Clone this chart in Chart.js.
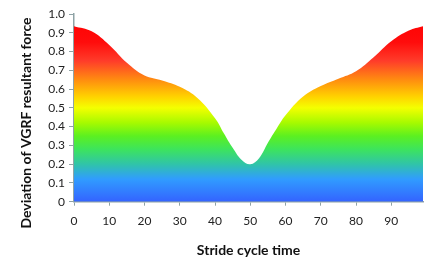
<!DOCTYPE html>
<html>
<head>
<meta charset="utf-8">
<script src="https://cdn.jsdelivr.net/npm/chart.js@4"></script>
<style>
  html, body { margin: 0; padding: 0; background: #fff; }
  #wrap { width: 444px; height: 263px; }
</style>
</head>
<body>
<div id="wrap"><canvas id="chart" width="444" height="263"></canvas></div>
<script>
// stride cycle (%) and deviation of VGRF resultant force
const strideTime = [0, 5, 10, 15, 20, 25, 30, 35, 40, 42.5, 45, 47.5, 50, 52.5, 55, 57.5, 60, 65, 70, 75, 80, 85, 90, 95, 99];
const vgrfDeviation = [0.935, 0.908, 0.835, 0.74, 0.672, 0.646, 0.612, 0.553, 0.445, 0.365, 0.287, 0.224, 0.20,
  0.232, 0.314, 0.39, 0.46, 0.56, 0.616, 0.655, 0.695, 0.77, 0.855, 0.912, 0.935];
const xTicks = [0, 10, 20, 30, 40, 50, 60, 70, 80, 90];
const yTitle = 'Deviation of VGRF resultant force';
const xTitle = 'Stride cycle time';

// gradient stops by value (0 bottom .. 1 top)
const gradStops = [
  [0.0, '#3463ff'], [0.12, '#309cff'], [0.2, '#30c4a8'], [0.28, '#3de45c'],
  [0.35, '#5cf020'], [0.42, '#a6fa00'], [0.5, '#f4ff00'], [0.56, '#ffd200'],
  [0.65, '#ff8c10'], [0.75, '#ff3c2a'], [0.85, '#ff0c0c'], [1.0, '#ff0000']
];

const axisColor = '#8fa3a6';
const fontFam = 'Lato, "Open Sans", sans-serif';

function fillGradient(ctx) {
  const chart = ctx.chart;
  const y = chart.scales.y;
  if (!chart.chartArea || !y) return '#f00';
  const y0 = y.getPixelForValue(0), y1 = y.getPixelForValue(1);
  if (!isFinite(y0) || !isFinite(y1)) return '#f00';
  const g = chart.ctx.createLinearGradient(0, y0, 0, y1);
  gradStops.forEach(s => g.addColorStop(s[0], s[1]));
  return g;
}

// y title sits a bit lower than the axis centre in the original
const yTitlePlugin = {
  id: 'yTitle',
  afterDraw(chart) {
    const c = chart.ctx;
    c.save();
    c.translate(26, 123);
    c.rotate(-Math.PI / 2);
    c.font = 'bold 14px ' + fontFam;
    c.fillStyle = '#111';
    c.textAlign = 'center';
    c.textBaseline = 'middle';
    c.fillText(yTitle, 0, 0);
    c.restore();
  }
};

new Chart(document.getElementById('chart').getContext('2d'), {
  type: 'line',
  data: {
    datasets: [{
      data: strideTime.map((t, i) => ({ x: t, y: vgrfDeviation[i] })),
      fill: 'origin',
      backgroundColor: fillGradient,
      borderWidth: 0,
      pointRadius: 0,
      tension: 0.4
    }]
  },
  plugins: [yTitlePlugin],
  options: {
    responsive: false,
    animation: false,
    layout: { padding: { top: 14, right: 21, left: 0, bottom: 0 } },
    plugins: { legend: { display: false }, tooltip: { enabled: false } },
    scales: {
      x: {
        type: 'linear',
        min: 0,
        max: 99,
        afterBuildTicks: axis => { axis.ticks = xTicks.map(v => ({ value: v })); },
        afterFit: axis => { axis.height = 61.3; },
        grid: { drawOnChartArea: false, color: axisColor, tickLength: 4 },
        border: { color: axisColor, width: 1.5 },
        ticks: { color: '#222', font: { family: fontFam, size: 12 }, padding: 8, maxRotation: 0 },
        title: {
          display: true, text: xTitle, color: '#111',
          font: { family: fontFam, size: 14, weight: 'bold' }, padding: { top: 10 }
        }
      },
      y: {
        min: 0,
        max: 1,
        afterFit: axis => { axis.width = 74; },
        grid: { drawOnChartArea: false, color: axisColor, tickLength: 5 },
        border: { color: axisColor, width: 1.5 },
        ticks: {
          stepSize: 0.1, color: '#222', padding: 4,
          font: { family: fontFam, size: 12 },
          callback: v => v === 0 ? '0' : v.toFixed(1)
        }
      }
    }
  }
});
</script>
</body>
</html>
